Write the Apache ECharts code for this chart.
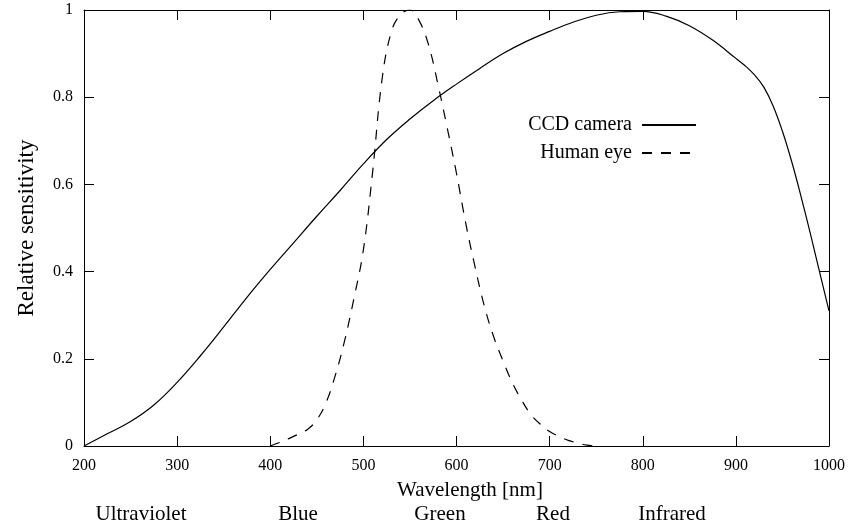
<!DOCTYPE html>
<html>
<head>
<meta charset="utf-8">
<script src="https://cdn.jsdelivr.net/npm/echarts@6/dist/echarts.min.js"></script>
<style>
	html, body { margin: 0; padding: 0; background: #fff; }
	#sensitivity-chart { width: 848px; height: 526px; }
</style>
</head>
<body>
<div id="sensitivity-chart"></div>
<script>
var ccdWavelengths = [200,225,250,275,300,325,350,375,400,425,450,475,500,525,550,575,600,625,650,675,700,725,750,775,800,825,850,875,900,910,920,930,940,950,960,970,980,990,1000];
var ccdValues = [0,0.028,0.056,0.094,0.146,0.207,0.273,0.341,0.405,0.466,0.527,0.586,0.647,0.703,0.75,0.792,0.83,0.866,0.9,0.928,0.951,0.972,0.988,0.996,0.997,0.986,0.964,0.931,0.889,0.872,0.851,0.823,0.78,0.722,0.652,0.572,0.487,0.398,0.31];

var eyeWavelengths = [400,410,420,430,440,450,460,470,480,490,500,510,520,530,540,550,560,570,580,590,600,610,620,630,640,650,660,670,680,690,700,710,720,730,740,750];
var eyeValues = [0,0.008,0.017,0.027,0.038,0.06,0.1,0.163,0.243,0.34,0.45,0.63,0.84,0.95,0.99,1.0,0.975,0.92,0.83,0.73,0.625,0.51,0.41,0.32,0.25,0.195,0.145,0.105,0.072,0.05,0.033,0.022,0.013,0.007,0.002,0];

var seriesNames = ['CCD camera', 'Human eye'];
var xTicks = { min: 200, max: 1000, interval: 100 };
var yTicks = { min: 0, max: 1, interval: 0.2 };

// band names under the axis, placed at these wavelengths
var bandNames = ['Ultraviolet', 'Blue', 'Green', 'Red', 'Infrared'];
var bandCenters = [261, 430, 582, 704, 831];

var serif = 'Liberation Serif';

function zip(xs, ys){
	var out = [];
	for (var i = 0; i < xs.length; i++) {
		out.push([xs[i], ys[i]]);
	}
	return out;
}

function frameAxis(extra){
	var axis = {
		type: 'value',
		splitLine: { show: false },
		axisLine: { show: true, onZero: false, lineStyle: { color: '#000', width: 1 } },
		axisTick: { show: true, inside: true, length: 10, lineStyle: { color: '#000', width: 1 } },
		axisLabel: { show: false }
	};
	for (var k in extra) axis[k] = extra[k];
	return axis;
}

function sensitivityChart(){
	var chart = echarts.init(document.getElementById('sensitivity-chart'));

	var gridLeft = 84, gridRight = 19;
	var plotW = 848 - gridLeft - gridRight;
	function xPix(wl){
		return gridLeft + (wl - xTicks.min) / (xTicks.max - xTicks.min) * plotW;
	}

	var graphics = [{
		type: 'text',
		style: {
			text: 'Wavelength [nm]',
			x: 470, y: 490,
			align: 'center', verticalAlign: 'middle',
			font: '21px "' + serif + '"',
			fill: '#000'
		}
	}];
	for (var i = 0; i < bandNames.length; i++) {
		graphics.push({
			type: 'text',
			style: {
				text: bandNames[i],
				x: Math.round(xPix(bandCenters[i])), y: 514,
				align: 'center', verticalAlign: 'middle',
				font: '21px "' + serif + '"',
				fill: '#000'
			}
		});
	}

	var option = {
		animation: false,
		backgroundColor: '#fff',
		textStyle: { fontFamily: serif, color: '#000' },
		grid: {
			left: gridLeft,
			right: gridRight,
			top: 10,
			bottom: 80,
			containLabel: false
		},
		legend: {
			orient: 'vertical',
			right: 146,
			top: 110,
			align: 'right',
			itemWidth: 54,
			itemHeight: 14,
			itemGap: 8,
			data: seriesNames,
			itemStyle: { opacity: 0, color: 'transparent', borderWidth: 0 },
			textStyle: {
				fontFamily: serif,
				fontSize: 20,
				color: '#000',
				padding: [0, 5, 0, 0]
			}
		},
		xAxis: [
			frameAxis({
				min: xTicks.min, max: xTicks.max, interval: xTicks.interval,
				position: 'bottom',
				axisLabel: {
					show: true, fontFamily: serif, fontSize: 16, color: '#000', margin: 12,
					formatter: function (v) { return String(v); }
				}
			}),
			frameAxis({
				min: xTicks.min, max: xTicks.max, interval: xTicks.interval,
				position: 'top'
			})
		],
		yAxis: [
			frameAxis({
				min: yTicks.min, max: yTicks.max, interval: yTicks.interval,
				position: 'left',
				name: 'Relative sensitivity',
				nameLocation: 'middle',
				nameGap: 46,
				nameTextStyle: { fontFamily: serif, fontSize: 23, color: '#000' },
				axisLabel: { show: true, fontFamily: serif, fontSize: 16, color: '#000', margin: 11 }
			}),
			frameAxis({
				min: yTicks.min, max: yTicks.max, interval: yTicks.interval,
				position: 'right'
			})
		],
		graphic: graphics,
		series: [{
			name: seriesNames[0],
			type: 'line',
			data: zip(ccdWavelengths, ccdValues),
			symbol: 'none',
			smooth: 0.4,
			lineStyle: { color: '#000', width: 1.2 },
			itemStyle: { color: '#000' }
		}, {
			name: seriesNames[1],
			type: 'line',
			data: zip(eyeWavelengths, eyeValues),
			symbol: 'none',
			smooth: 0.4,
			lineStyle: { color: '#000', width: 1.2, type: [10, 9] },
			itemStyle: { color: '#000' }
		}]
	};

	chart.setOption(option);
}

window.onload = function(){
	sensitivityChart();
};
</script>
</body>
</html>
